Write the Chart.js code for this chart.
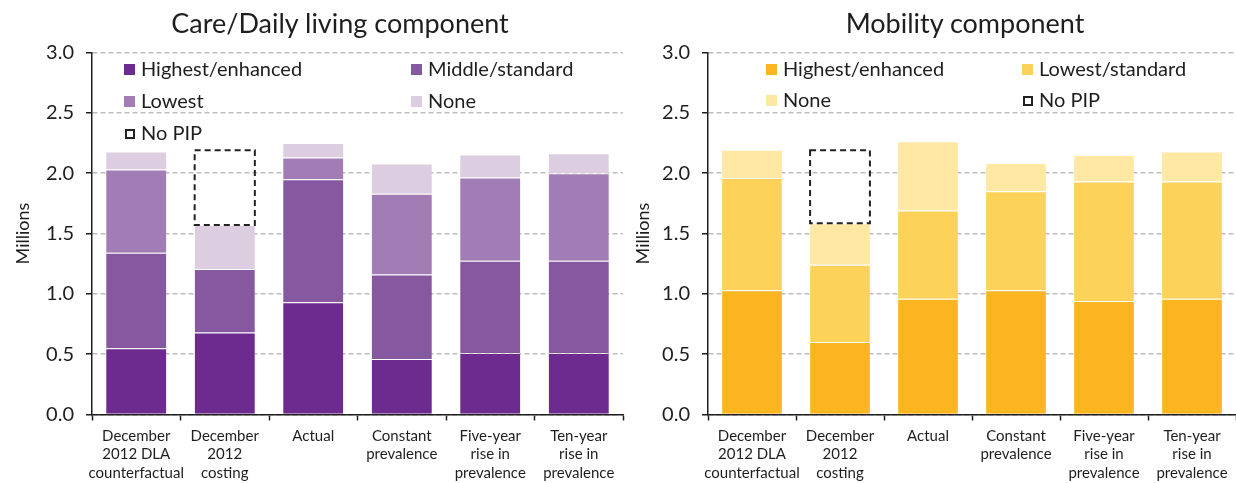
<!DOCTYPE html>
<html lang="en">
<head>
    <meta charset="UTF-8">
    <title>PIP caseload by component</title>
    <script src="https://cdn.jsdelivr.net/npm/chart.js"></script>
    <style>
        body { margin: 0; background: #fff; font-family: Lato, sans-serif; color: #1e1e1e; }
        #wrap { position: relative; width: 1236px; height: 483px; overflow: hidden; }
        canvas { position: absolute; top: 0; }
        .title { position: absolute; top: 6px; font-size: 27px; transform: translateX(-50%); white-space: nowrap; }
        .lg { position: absolute; font-size: 20px; line-height: 24px; white-space: nowrap; transform: translateY(-50%); }
        .lg i { display: inline-block; width: 11px; height: 11px; margin-right: 6px; vertical-align: 1px; }
        .lg i.dash { width: 6px; height: 6px; border: 2px dashed #222; box-sizing: content-box; margin-left: 1px; }
    </style>
</head>
<body>
<div id="wrap">
    <canvas id="careChart" width="630" height="483" style="left:0"></canvas>
    <canvas id="mobChart" width="616" height="483" style="left:620px"></canvas>

    <div class="title" style="left:340px">Care/Daily living component</div>
    <div class="title" style="left:965px">Mobility component</div>

    <div class="lg" style="left:124px;top:68px"><i style="background:#6D2B8F"></i>Highest/enhanced</div>
    <div class="lg" style="left:411px;top:68px"><i style="background:#8558A0"></i>Middle/standard</div>
    <div class="lg" style="left:124px;top:100px"><i style="background:#A27CB5"></i>Lowest</div>
    <div class="lg" style="left:411px;top:100px"><i style="background:#DDCDE0"></i>None</div>
    <div class="lg" style="left:124px;top:132px"><i class="dash"></i>No PIP</div>

    <div class="lg" style="left:766px;top:68px"><i style="background:#FBB520"></i>Highest/enhanced</div>
    <div class="lg" style="left:1022px;top:68px"><i style="background:#FDD258"></i>Lowest/standard</div>
    <div class="lg" style="left:766px;top:99px"><i style="background:#FEE8A4"></i>None</div>
    <div class="lg" style="left:1022px;top:99px"><i class="dash"></i>No PIP</div>
</div>

<script>
    // categories (multi-line tick labels)
    const categories = [
        ["December", "2012 DLA", "counterfactual"],
        ["December", "2012", "costing"],
        ["Actual"],
        ["Constant", "prevalence"],
        ["Five-year", "rise in", "prevalence"],
        ["Ten-year", "rise in", "prevalence"]
    ];
    const yTicks = [0, 0.5, 1, 1.5, 2, 2.5, 3];

    // care / daily living component (millions)
    const careHighest = [0.55, 0.68, 0.93, 0.46, 0.51, 0.51];
    const careMiddle  = [0.79, 0.525, 1.02, 0.70, 0.765, 0.765];
    const careLowest  = [0.69, 0, 0.18, 0.67, 0.69, 0.725];
    const careNone    = [0.15, 0.365, 0.12, 0.25, 0.19, 0.165];
    const careNoPip   = [null, 0.62, null, null, null, null];

    // mobility component (millions)
    const mobHighest = [1.03, 0.60, 0.96, 1.03, 0.94, 0.96];
    const mobLowest  = [0.93, 0.64, 0.73, 0.82, 0.99, 0.97];
    const mobNone    = [0.235, 0.345, 0.575, 0.235, 0.22, 0.25];
    const mobNoPip   = [null, 0.605, null, null, null, null];

    const FONT = "Lato";
    const INK = "#1e1e1e";

    // dashed outline for the "No PIP" dataset, drawn from the bar elements
    const dashedBars = {
        id: "dashedBars",
        afterDatasetsDraw(chart) {
            const ctx = chart.ctx;
            chart.data.datasets.forEach((ds, i) => {
                if (!ds.dashed) return;
                chart.getDatasetMeta(i).data.forEach((bar, j) => {
                    if (ds.data[j] == null) return;
                    const p = bar.getProps(["x", "y", "base", "width"], true);
                    ctx.save();
                    ctx.setLineDash([6, 4]);
                    ctx.lineWidth = 2;
                    ctx.strokeStyle = "#222";
                    ctx.strokeRect(p.x - p.width / 2, p.y, p.width, p.base - p.y);
                    ctx.restore();
                });
            });
        }
    };

    function seg(label, data, color) {
        return {
            label: label,
            data: data,
            backgroundColor: color,
            borderColor: "rgba(255,255,255,0.35)",
            borderWidth: { top: 1, left: 0, right: 0, bottom: 0 },
            categoryPercentage: 0.68,
            barPercentage: 1
        };
    }

    function makeChart(id, datasets, yWidth, titlePad, padRight) {
        return new Chart(document.getElementById(id), {
            type: "bar",
            data: { labels: categories, datasets: datasets },
            plugins: [dashedBars],
            options: {
                responsive: false,
                animation: false,
                devicePixelRatio: 1,
                layout: { padding: { top: 52.5, right: padRight, bottom: 0, left: 0 } },
                plugins: { legend: { display: false }, title: { display: false }, tooltip: { enabled: false } },
                scales: {
                    x: {
                        stacked: true,
                        grid: { drawOnChartArea: false, drawTicks: true, tickLength: 6, tickColor: INK, tickWidth: 1.5 },
                        border: { color: INK, width: 1.5 },
                        ticks: { color: INK, font: { family: FONT, size: 15, lineHeight: 1.25 }, padding: 6, maxRotation: 0, autoSkip: false },
                        afterFit(s) { s.height = 68.5; }
                    },
                    y: {
                        stacked: true,
                        min: 0,
                        max: 3,
                        afterBuildTicks(s) { s.ticks = yTicks.map(v => ({ value: v })); },
                        ticks: { color: INK, font: { family: FONT, size: 20 }, padding: 12, callback: v => v.toFixed(1) },
                        grid: { color: "#bdbdbd", lineWidth: 1.5, tickLength: 6, tickColor: INK, tickWidth: 1.5 },
                        border: { color: INK, width: 1.5, dash: [5, 3] },
                        title: { display: true, text: "Millions", color: INK, font: { family: FONT, size: 18 }, padding: { top: 12, bottom: 0 } },
                        afterFit(s) { s.width = yWidth; }
                    }
                }
            }
        });
    }

    makeChart("careChart", [
        seg("Highest/enhanced", careHighest, "#6D2B8F"),
        seg("Middle/standard", careMiddle, "#8558A0"),
        seg("Lowest", careLowest, "#A27CB5"),
        seg("None", careNone, "#DDCDE0"),
        Object.assign(seg("No PIP", careNoPip, "rgba(0,0,0,0)"), { dashed: true, borderWidth: 0 })
    ], 92, 12, 7);

    makeChart("mobChart", [
        seg("Highest/enhanced", mobHighest, "#FBB520"),
        seg("Lowest/standard", mobLowest, "#FDD258"),
        seg("None", mobNone, "#FEE8A4"),
        Object.assign(seg("No PIP", mobNoPip, "rgba(0,0,0,0)"), { dashed: true, borderWidth: 0 })
    ], 88, 10, 0);
</script>
</body>
</html>
